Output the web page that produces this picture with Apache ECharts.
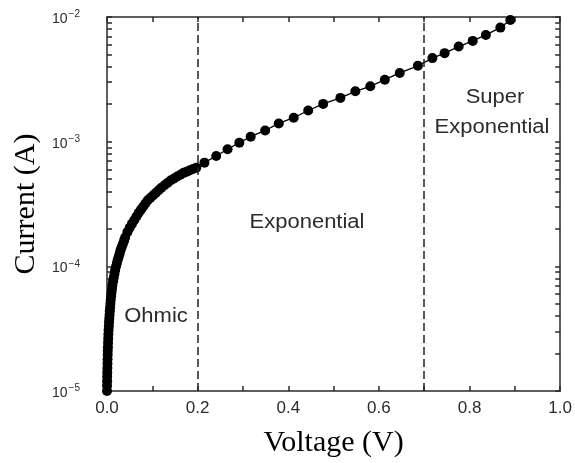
<!DOCTYPE html>
<html>
<head>
<meta charset="utf-8">
<script src="https://cdn.jsdelivr.net/npm/echarts@6/dist/echarts.min.js"></script>
<style>
  html, body { margin: 0; padding: 0; background: #fff; }
  #chart { width: 575px; height: 463px; }
</style>
</head>
<body>
<div id="chart"></div>
<script>
// Measured I-V sweep: voltage (V) and current (A)
const voltage = [
  0.0000, 0.0001, 0.0003, 0.0004, 0.0006, 0.0008, 0.0010, 0.0012, 0.0015, 0.0017,
  0.0020, 0.0023, 0.0027, 0.0031, 0.0035, 0.0040, 0.0045, 0.0050, 0.0056, 0.0062,
  0.0068, 0.0075, 0.0082, 0.0091, 0.0100, 0.011, 0.012, 0.0135, 0.015, 0.0165,
  0.018, 0.020, 0.022, 0.024, 0.026, 0.028, 0.030, 0.0325, 0.035, 0.0375,
  0.040, 0.045, 0.050, 0.055, 0.060, 0.065, 0.070, 0.075, 0.080, 0.085,
  0.090, 0.096, 0.102, 0.108, 0.114, 0.120, 0.127, 0.134, 0.141, 0.148,
  0.155, 0.162, 0.169, 0.176, 0.183, 0.190,
  0.197, 0.215, 0.241, 0.266, 0.292, 0.317, 0.349, 0.379, 0.412, 0.444,
  0.477, 0.515, 0.548, 0.581, 0.613, 0.646, 0.686, 0.718, 0.745, 0.776,
  0.807, 0.836, 0.868, 0.890
];
const current = [
  1.00e-5, 1.10e-5, 1.20e-5, 1.30e-5, 1.41e-5, 1.53e-5, 1.66e-5, 1.80e-5, 1.95e-5, 2.09e-5,
  2.24e-5, 2.43e-5, 2.63e-5, 2.85e-5, 3.09e-5, 3.31e-5, 3.55e-5, 3.80e-5, 4.07e-5, 4.37e-5,
  4.68e-5, 5.01e-5, 5.37e-5, 5.75e-5, 6.17e-5, 6.61e-5, 7.08e-5, 7.59e-5, 8.13e-5, 8.71e-5,
  9.33e-5, 1.00e-4, 1.07e-4, 1.14e-4, 1.20e-4, 1.27e-4, 1.35e-4, 1.43e-4, 1.51e-4, 1.60e-4,
  1.70e-4, 1.88e-4, 2.04e-4, 2.19e-4, 2.34e-4, 2.51e-4, 2.69e-4, 2.85e-4, 3.02e-4, 3.20e-4,
  3.39e-4, 3.55e-4, 3.72e-4, 3.89e-4, 4.07e-4, 4.27e-4, 4.47e-4, 4.68e-4, 4.90e-4, 5.07e-4,
  5.25e-4, 5.43e-4, 5.62e-4, 5.75e-4, 5.89e-4, 6.03e-4,
  6.19e-4, 6.79e-4, 7.67e-4, 8.69e-4, 9.82e-4, 1.096e-3, 1.230e-3, 1.400e-3, 1.556e-3, 1.778e-3,
  2.009e-3, 2.244e-3, 2.535e-3, 2.780e-3, 3.14e-3, 3.56e-3, 4.06e-3, 4.68e-3, 5.13e-3, 5.79e-3,
  6.43e-3, 7.18e-3, 8.22e-3, 9.46e-3
];

// Conduction regime boundaries (V)
const regimeBounds = [0.2, 0.7];

// Axis ticks
const xTickValues = [0, 0.1, 0.2, 0.3, 0.4, 0.5, 0.6, 0.7, 0.8, 0.9, 1.0];
const xLabelValues = [0, 0.2, 0.4, 0.6, 0.8, 1.0];
const yLabelValues = [1e-5, 1e-4, 1e-3, 1e-2];
const yTickValues = [
  1e-5, 2e-5, 3e-5, 4e-5, 5e-5, 6e-5, 7e-5, 8e-5, 9e-5,
  1e-4, 2e-4, 3e-4, 4e-4, 5e-4, 6e-4, 7e-4, 8e-4, 9e-4,
  1e-3, 2e-3, 3e-3, 4e-3, 5e-3, 6e-3, 7e-3, 8e-3, 9e-3, 1e-2
];

const frameColor = '#2a2a2a';
const sans = '"Liberation Sans", Arial, sans-serif';
const serif = '"Liberation Serif", "Times New Roman", serif';

function xAxisDef(pos, showLabels) {
  return {
    type: 'value', position: pos, min: 0, max: 1,
    axisLine: { show: true, onZero: false, lineStyle: { color: frameColor, width: 1.5 } },
    axisTick: { show: true, inside: true, length: 5, customValues: xTickValues,
                lineStyle: { color: frameColor, width: 1.5 } },
    axisLabel: { show: showLabels, customValues: xLabelValues, margin: 9,
                 color: '#2b2b2b', fontSize: 17, fontFamily: sans,
                 formatter: v => v.toFixed(1) },
    splitLine: { show: false }
  };
}

function yAxisDef(pos, showLabels) {
  return {
    type: 'log', logBase: 10, position: pos, min: 1e-5, max: 1e-2,
    axisLine: { show: true, onZero: false, lineStyle: { color: frameColor, width: 1.5 } },
    axisTick: { show: true, inside: true, length: 5, customValues: yTickValues,
                lineStyle: { color: frameColor, width: 1.5 } },
    axisLabel: {
      show: showLabels, customValues: yLabelValues, margin: 27,
      formatter: v => '{b|10}{s|\u2212' + Math.round(-Math.log10(v)) + '}',
      rich: {
        b: { fontSize: 14, fontFamily: sans, color: '#2b2b2b', padding: [4, 0, 0, 0] },
        s: { fontSize: 10, fontFamily: sans, color: '#2b2b2b', padding: [0, 0, 5, 1] }
      }
    },
    splitLine: { show: false }
  };
}

const chart = echarts.init(document.getElementById('chart'), null, { renderer: 'canvas' });

chart.setOption({
  animation: false,
  backgroundColor: '#ffffff',
  grid: { left: 107, right: 12, top: 17, bottom: 70, containLabel: false },
  xAxis: [
    Object.assign(xAxisDef('bottom', true), {
      name: 'Voltage (V)', nameLocation: 'middle', nameGap: 37,
      nameTextStyle: { fontFamily: serif, fontSize: 30, color: '#000' }
    }),
    xAxisDef('top', false)
  ],
  yAxis: [
    Object.assign(yAxisDef('left', true), {
      name: 'Current (A)', nameLocation: 'middle', nameGap: 59, nameRotate: 90,
      nameTextStyle: { fontFamily: serif, fontSize: 30, color: '#000' }
    }),
    yAxisDef('right', false)
  ],
  series: [{
    type: 'line',
    xAxisIndex: 0, yAxisIndex: 0,
    data: voltage.map((v, i) => [v, current[i]]),
    symbol: 'circle', symbolSize: 10,
    itemStyle: { color: '#000' },
    lineStyle: { color: '#000', width: 1.3 },
    clip: false,
    markLine: {
      silent: true, symbol: 'none',
      label: { show: false },
      lineStyle: { color: '#222', width: 1.5, type: [8, 4] },
      data: regimeBounds.map(v => ({ xAxis: v }))
    }
  }],
  graphic: [
    { type: 'text', x: 156, y: 316, scaleX: 1.1,
      style: { text: 'Ohmic', font: '20px ' + sans, fill: '#2b2b2b', textAlign: 'center', textVerticalAlign: 'middle' } },
    { type: 'text', x: 307, y: 222, scaleX: 1.1,
      style: { text: 'Exponential', font: '20px ' + sans, fill: '#2b2b2b', textAlign: 'center', textVerticalAlign: 'middle' } },
    { type: 'text', x: 495, y: 97, scaleX: 1.1,
      style: { text: 'Super', font: '20px ' + sans, fill: '#2b2b2b', textAlign: 'center', textVerticalAlign: 'middle' } },
    { type: 'text', x: 492, y: 127, scaleX: 1.1,
      style: { text: 'Exponential', font: '20px ' + sans, fill: '#2b2b2b', textAlign: 'center', textVerticalAlign: 'middle' } }
  ]
});
</script>
</body>
</html>
